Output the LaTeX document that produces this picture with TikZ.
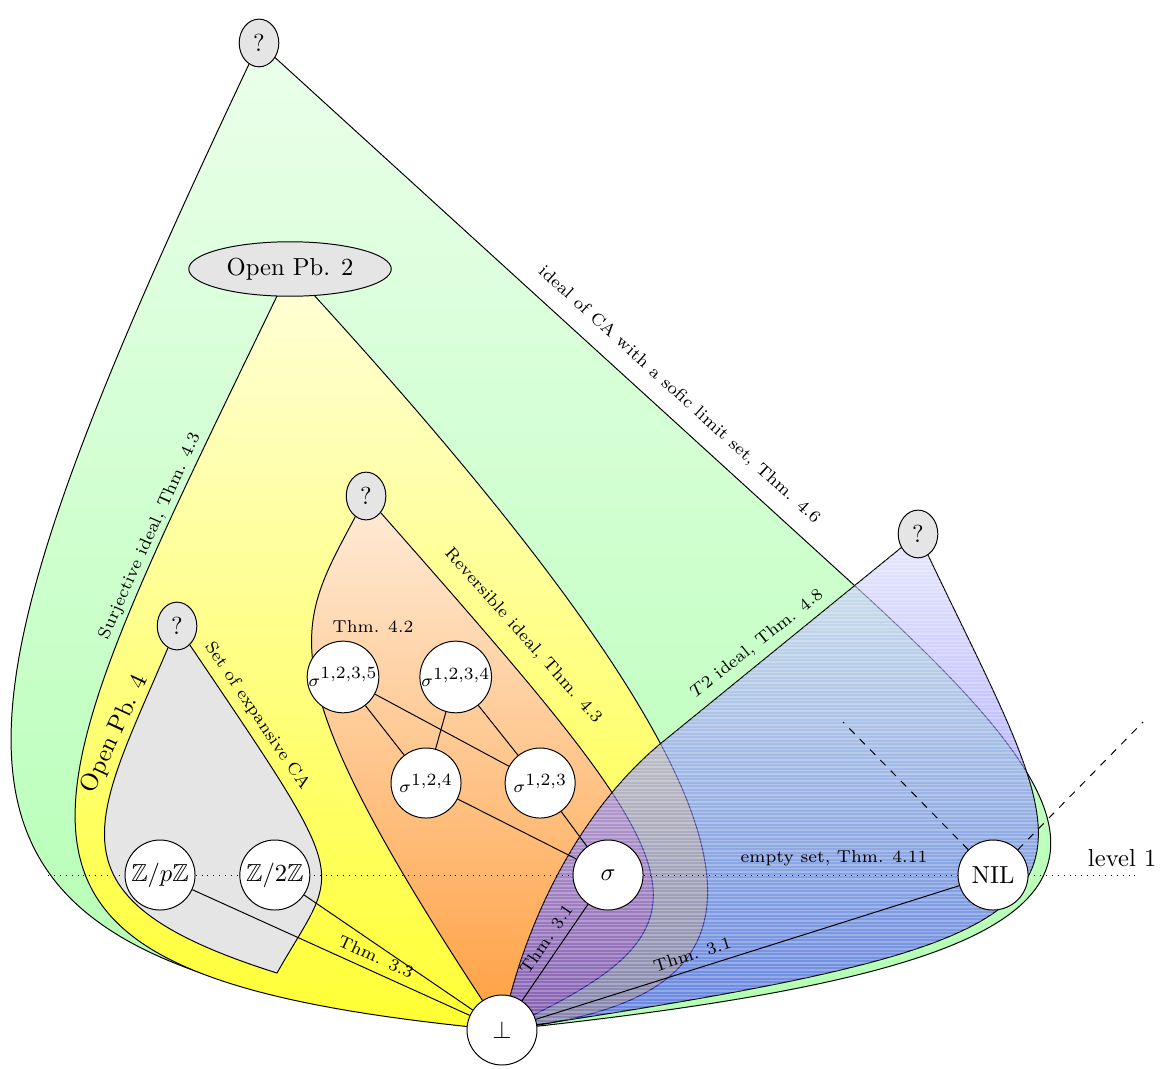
\documentclass[tikz,border=0pt]{standalone}
\usepackage{amssymb}
\usetikzlibrary{shapes.geometric,backgrounds,positioning}

\tikzstyle{grayEllipse} = [ellipse, draw, fill=gray!20]
\tikzstyle{whiteCircle} = [circle, draw, fill=white, minimum size=1cm, inner sep=0pt]
\tikzstyle{thmLabel} = [font=\scriptsize]
\tikzstyle{greenZone} = [draw, top color=green!8, bottom color=green!30]
\tikzstyle{yellowZone} = [draw, top color=yellow!15, bottom color=yellow!80]
\tikzstyle{orangeZone} = [draw, top color=orange!15, bottom color=orange!75]
\tikzstyle{grayZone} = [draw, fill=gray!20]
\tikzstyle{blueZone} = [draw, top color=blue!15, bottom color=blue!80, fill opacity=0.6]
\tikzstyle{blueStripe} = [white, opacity=0.25, line width=0.5pt]

\newcommand{\sig}[1]{\scriptsize$\sigma^{\mbox{\scriptsize #1}}$}

\begin{document}
\begin{tikzpicture}
            \useasboundingbox (0,0) rectangle (16.671,15.257);
            % open problems
            \node[grayEllipse] (qtop) at (3.7,14.643) {?};
            \node[grayEllipse] (open2) at (4.143,11.414) {Open Pb. 2};
            \node[grayEllipse] (qrev) at (5.229,8.171) {?};
            \node[grayEllipse] (qexp) at (2.529,6.314) {?};
            \node[grayEllipse] (qt2) at (13.114,7.629) {?};
            % ideals
            \node[whiteCircle] (bot) at (7.171,0.543) {$\perp$};
            \node[whiteCircle] (zp) at (2.286,2.757) {$\mathbb{Z}/p\mathbb{Z}$};
            \node[whiteCircle, right of=zp, node distance=16.4mm] (z2) {$\mathbb{Z}/2\mathbb{Z}$};
            \node[whiteCircle] (sigma) at (8.686,2.757) {$\sigma$};
            \node[whiteCircle] (nil) at (14.186,2.757) {NIL};
            \node[whiteCircle] (s1235) at (4.9,5.586) {\sig{1,2,3,5}};
            \node[whiteCircle, right of=s1235, node distance=16.1mm] (s1234) {\sig{1,2,3,4}};
            \node[whiteCircle] (s124) at (6.086,4.071) {\sig{1,2,4}};
            \node[whiteCircle, right of=s124, node distance=16.3mm] (s123) {\sig{1,2,3}};
            \node (level) at (16.03,3.0) {level 1};
            \coordinate (lvlL) at (0.686,2.757);
            \coordinate (lvlR) at (16.286,2.757);
            \coordinate (dashL) at (12.043,4.943);
            \coordinate (dashR) at (16.329,4.943);
            \coordinate (corner) at (3.957,1.357);
            \coordinate (sofic) at (12.214,6.886);
            \coordinate (t2bend) at (9.5,4.686);
            % zones
            \begin{scope}[on background layer]
            \draw[greenZone] (bot.center) .. controls (-1.571,1.471) and (-1.429,3.829) .. (qtop.center) -- (sofic) .. controls (16.429,3.043) and (16.714,1.543) .. (bot.center) -- cycle;
            \draw[yellowZone] (bot.center) .. controls (-1.143,1.329) and (0.286,3.4) .. (open2.center) .. controls (12.271,2.6) and (10.857,0.971) .. (bot.center) -- cycle;
            \draw[grayZone] (corner) .. controls (0.414,2.471) and (1.414,3.6) .. (qexp.center) .. controls (5.114,2.486) and (4.871,2.971) .. (corner) -- cycle;
            \draw[orangeZone] (bot.center) .. controls (3.529,6.014) and (4.286,6.3) .. (qrev.center) .. controls (9.986,2.771) and (10.571,2.114) .. (bot.center) -- cycle;
            \draw[blueZone] (bot.center) .. controls (7.543,2.329) and (8.443,3.843) .. (t2bend) -- (qt2.center) .. controls (15.571,2.4) and (16.714,1.971) .. (bot.center) -- cycle;
            \begin{scope}
            \clip (bot.center) .. controls (7.543,2.329) and (8.443,3.843) .. (t2bend) -- (qt2.center) .. controls (15.571,2.4) and (16.714,1.971) .. (bot.center) -- cycle;
            \foreach \y in {0.5,0.55,...,7.7}
                \draw[blueStripe] (7,\y) -- (16.7,\y);
            \end{scope}
            \draw[dotted] (lvlL) -- (lvlR);
            \end{scope}
            % edges
            \draw (zp) -- node[thmLabel, above, sloped, pos=0.64] {Thm. 3.3} (bot);
            \draw (z2) -- (bot);
            \draw (s1235) -- (s124);
            \draw (s1235) -- (s123);
            \draw (s1234) -- (s124);
            \draw (s1234) -- (s123);
            \draw (s124) -- (sigma);
            \draw (s123) -- (sigma);
            \draw (sigma) -- node[thmLabel, above, sloped, pos=0.45] {Thm. 3.1} (bot);
            \draw (nil) -- node[thmLabel, above, sloped, pos=0.62] {Thm. 3.1} (bot);
            \draw[dashed] (nil) -- (dashL);
            \draw[dashed] (nil) -- (dashR);
            % zone labels
            \node[thmLabel, rotate=-42.3] (soficLbl) at (9.7,9.614) {ideal of CA with a sofic limit set, Thm. 4.6};
            \node[thmLabel, rotate=38.4] (t2Lbl) at (10.814,6.057) {$T$2 ideal, Thm. 4.8};
            \node[thmLabel, rotate=-48.4] (revLbl) at (7.471,6.171) {Reversible ideal, Thm. 4.3};
            \node[thmLabel, rotate=-56] (expLbl) at (3.671,5.029) {Set of expansive CA};
            \node[thmLabel, rotate=65.7] (surjLbl) at (2.143,7.6) {Surjective ideal, Thm. 4.3};
            \node[rotate=65] (open4) at (1.643,4.771) {Open Pb. 4};
            \node[thmLabel] (thm42) at (5.329,6.3) {Thm. 4.2};
            \node[thmLabel] (emptyLbl) at (11.914,3.0) {empty set, Thm. 4.11};
        \end{tikzpicture}
\end{document}
